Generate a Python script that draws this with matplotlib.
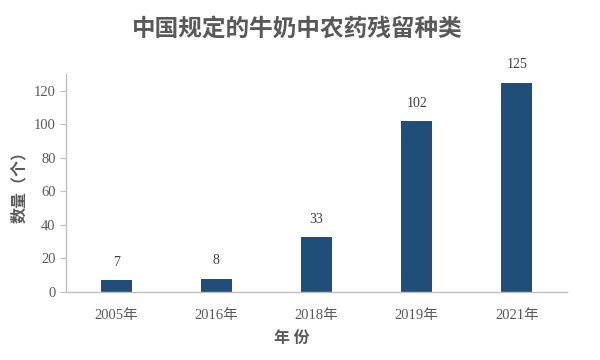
import matplotlib
matplotlib.use("Agg")
import matplotlib.pyplot as plt

years = ["2005年", "2016年", "2018年", "2019年", "2021年"]
counts = [7, 8, 33, 102, 125]

SERIF = ["Liberation Serif", "Noto Sans CJK SC"]
CJK = ["Noto Sans CJK SC", "DejaVu Sans"]

fig = plt.figure(figsize=(6, 3.6), dpi=100)
ax = fig.add_axes([0.11, 0.189, 0.835, 0.605])

x = range(len(years))
bars = ax.bar(x, counts, width=0.31, color="#1f4e79")

for rect, v in zip(bars, counts):
    ax.annotate(str(v), (rect.get_x() + rect.get_width() / 2, v),
                xytext=(0, 8), textcoords="offset points",
                ha="center", va="bottom", fontsize=10, color="#404040",
                family=SERIF)

ax.set_xlim(-0.5, 4.5)
ax.set_ylim(0, 130)
ax.set_yticks(range(0, 121, 20))
ax.set_xticks(list(x))
ax.set_xticklabels(years, family=SERIF, fontsize=10.5, color="#595959")
for lbl in ax.get_yticklabels():
    lbl.set_family(SERIF)
ax.tick_params(axis="y", labelsize=10.5, labelcolor="#595959", color="#bfbfbf",
               length=4, direction="out")
ax.tick_params(axis="x", length=0, pad=12)

for side in ("top", "right"):
    ax.spines[side].set_visible(False)
for side in ("left", "bottom"):
    ax.spines[side].set_color("#bfbfbf")
    ax.spines[side].set_linewidth(1)

ax.set_ylabel("数量（个）", family=CJK, fontsize=11.5, fontweight="bold",
              color="#595959", labelpad=5)
ax.set_xlabel("年 份", family=CJK, fontsize=11.5, fontweight="bold",
              color="#595959", va="center")
ax.xaxis.set_label_coords(0.45, -0.21)
fig.text(0.495, 0.92, "中国规定的牛奶中农药残留种类", family=CJK, fontsize=17,
         fontweight="bold", color="#595959", ha="center", va="center")

fig.savefig("out.png", dpi=100, facecolor="white")
